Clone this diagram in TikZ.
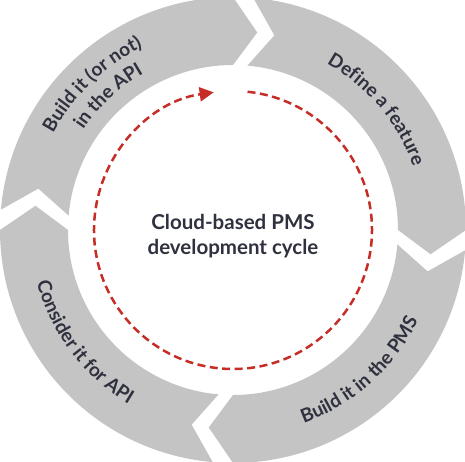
\documentclass[tikz,border=0pt]{standalone}
\usepackage{fontspec}
\setmainfont{Lato}
\usetikzlibrary{arrows.meta,decorations.text}
\definecolor{ringgray}{RGB}{196,196,196}
\definecolor{labeltext}{RGB}{47,49,62}
\definecolor{cyclered}{RGB}{197,45,38}

\begin{document}
\begin{tikzpicture}[x=1pt,y=1pt,
  segment/.style={fill=ringgray,draw=none},
  ringlabel/.style={decorate,decoration={text along path,text align=center,
    text color=labeltext,text={|\fontsize{19}{22}\selectfont\bfseries|#1}}},
  cyclepath/.style={draw=cyclered,line width=2.5pt,dash pattern=on 8pt off 4.5pt,
    -{Triangle[length=14pt,width=14pt]}},
  title/.style={align=center,text=labeltext,font=\fontsize{20.5}{25}\selectfont\bfseries}]
\useasboundingbox (-233,-232) rectangle (232,230);

%Shape: Ring segment [define]
\fill[segment] (85:233) arc[start angle=85,end angle=0,radius=233] -- (-7:199)
  -- (0:165) arc[start angle=0,end angle=85,radius=165] -- (78:199) -- cycle;
%Shape: Ring segment [pms]
\fill[segment] (-5:233) arc[start angle=-5,end angle=-90,radius=233] -- (-97:199)
  -- (-90:165) arc[start angle=-90,end angle=-5,radius=165] -- (-12:199) -- cycle;
%Shape: Ring segment [consider]
\fill[segment] (-95:233) arc[start angle=-95,end angle=-180,radius=233] -- (-187:199)
  -- (-180:165) arc[start angle=-180,end angle=-95,radius=165] -- (-102:199) -- cycle;
%Shape: Ring segment [api]
\fill[segment] (175:233) arc[start angle=175,end angle=90,radius=233] -- (83:199)
  -- (90:165) arc[start angle=90,end angle=175,radius=165] -- (168:199) -- cycle;

% Ring labels
\path[ringlabel={Define a feature}] (100:191) arc[start angle=100,end angle=-20,radius=191];
\path[ringlabel={Build it in the PMS}] (-108:206) arc[start angle=-108,end angle=12,radius=206];
\path[ringlabel={Consider it for API}] (157:203) arc[start angle=157,end angle=277,radius=203];
\path[ringlabel={Build it (or not)}] (194:204) arc[start angle=194,end angle=74,radius=204];
\path[ringlabel={in the API}] (193:180) arc[start angle=193,end angle=73,radius=180];

% Cycle arrow
\draw[cyclepath] (84:139) arc[start angle=84,end angle=-262,radius=139];

% Text Node
\node[title] (title) at (0,-6) {Cloud-based PMS\\development cycle};

\end{tikzpicture}
\end{document}
